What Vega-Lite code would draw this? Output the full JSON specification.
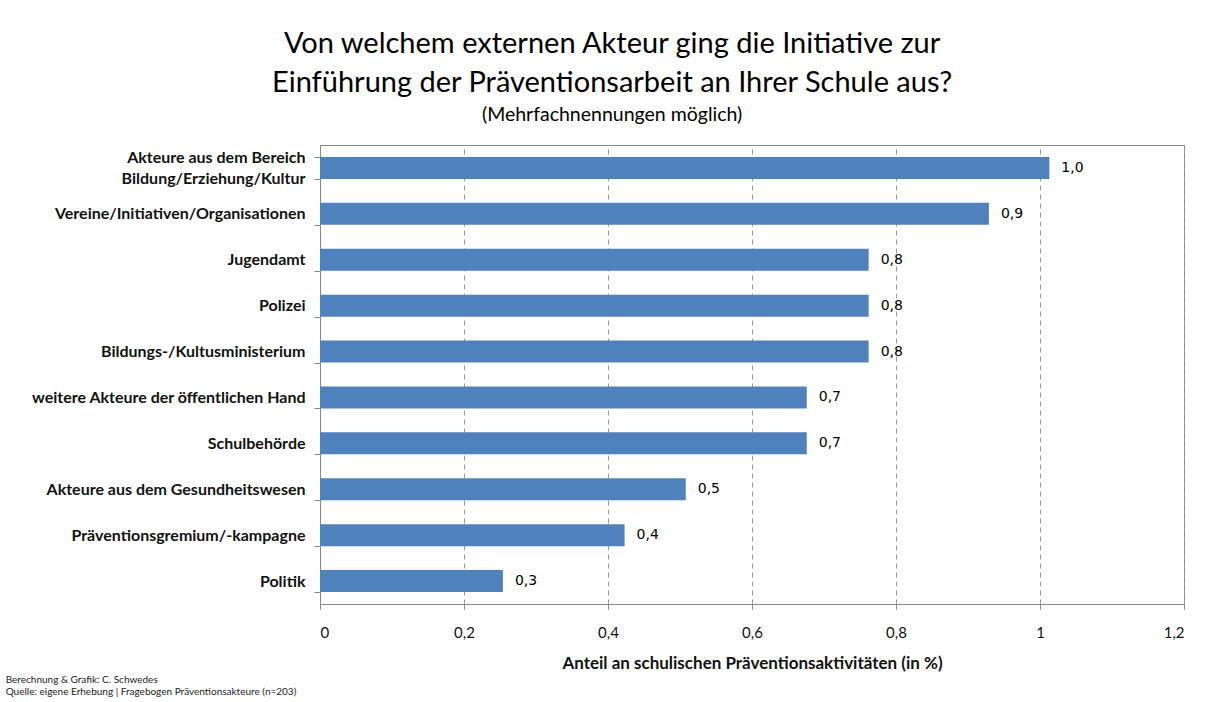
{
  "$schema": "https://vega.github.io/schema/vega-lite/v6.json",
  "background": "white",
  "padding": {"left": 5, "top": 30, "right": 10, "bottom": 2},
  "autosize": {"type": "pad"},
  "config": {
    "locale": {"number": {"decimal": ",", "thousands": ".", "grouping": [3], "currency": ["", " €"]}},
    "font": "Lato",
    "view": {"stroke": "#888888", "strokeWidth": 1}
  },
  "title": {
    "text": ["Von welchem externen Akteur ging die Initiative zur", "Einführung der Präventionsarbeit an Ihrer Schule aus?"],
    "subtitle": "(Mehrfachnennungen möglich)",
    "font": "Lato",
    "fontSize": 29,
    "fontWeight": "normal",
    "color": "#000000",
    "lineHeight": 39,
    "subtitleFont": "Lato",
    "subtitleFontSize": 19.5,
    "subtitleColor": "#000000",
    "subtitlePadding": 8,
    "anchor": "middle",
    "dx": 17,
    "offset": 12
  },
  "vconcat": [
    {
      "width": 864,
      "height": 459,
      "title": {
        "text": ["Berechnung & Grafik: C. Schwedes", "Quelle: eigene Erhebung | Fragebogen Präventionsakteure (n=203)"],
        "orient": "bottom",
        "anchor": "start",
        "frame": "bounds",
        "font": "Lato",
        "fontSize": 10,
        "fontWeight": "normal",
        "color": "#222222",
        "lineHeight": 12,
        "offset": 4,
        "dx": -25
      },
      "data": {
        "values": [
          {"akteur": "Akteure aus dem Bereich Bildung/Erziehung/Kultur", "anteil": 1.013},
          {"akteur": "Vereine/Initiativen/Organisationen", "anteil": 0.929},
          {"akteur": "Jugendamt", "anteil": 0.762},
          {"akteur": "Polizei", "anteil": 0.762},
          {"akteur": "Bildungs-/Kultusministerium", "anteil": 0.762},
          {"akteur": "weitere Akteure der öffentlichen Hand", "anteil": 0.676},
          {"akteur": "Schulbehörde", "anteil": 0.676},
          {"akteur": "Akteure aus dem Gesundheitswesen", "anteil": 0.508},
          {"akteur": "Präventionsgremium/-kampagne", "anteil": 0.423},
          {"akteur": "Politik", "anteil": 0.254}
        ]
      },
      "encoding": {
        "y": {
          "field": "akteur",
          "type": "nominal",
          "sort": null,
          "scale": {"paddingInner": 0.52, "paddingOuter": 0.26},
          "axis": {
            "title": null,
            "labelFont": "Lato",
            "labelFontSize": 16,
            "labelFontWeight": "bold",
            "labelColor": "#111111",
            "labelPadding": 9,
            "labelLimit": 400,
            "labelLineHeight": 21,
            "labelOffset": {"condition": {"test": "datum.value == 'Akteure aus dem Bereich Bildung/Erziehung/Kultur'", "value": -10}, "value": 0},
            "labelExpr": "datum.value == 'Akteure aus dem Bereich Bildung/Erziehung/Kultur' ? ['Akteure aus dem Bereich', 'Bildung/Erziehung/Kultur'] : datum.label",
            "tickBand": "extent",
            "tickSize": 6,
            "tickColor": "#888888",
            "domainColor": "#888888",
            "grid": false
          }
        },
        "x": {
          "field": "anteil",
          "type": "quantitative",
          "scale": {"domain": [0, 1.2], "nice": false},
          "axis": {
            "title": "Anteil an schulischen  Präventionsaktivitäten  (in %)",
            "titleFont": "Lato",
            "titleFontSize": 17,
            "titleFontWeight": "bold",
            "titleColor": "#111111",
            "titlePadding": 15,
            "values": [0, 0.2, 0.4, 0.6, 0.8, 1, 1.2],
            "format": "~g",
            "labelFont": "Lato",
            "labelFontSize": 15,
            "labelColor": "#111111",
            "labelPadding": 16,
            "tickSize": 5,
            "tickColor": "#888888",
            "domainColor": "#888888",
            "grid": true,
            "gridColor": "#999999",
            "gridDash": [5, 4],
            "gridWidth": 1
          }
        }
      },
      "layer": [
        {"mark": {"type": "bar", "color": "#4F81BD"}},
        {
          "mark": {"type": "text", "align": "left", "baseline": "middle", "dx": 12, "font": "DejaVu Sans", "fontSize": 14, "color": "#000000"},
          "encoding": {"text": {"field": "anteil", "type": "quantitative", "format": ".1f"}}
        }
      ]
    }
  ]
}
